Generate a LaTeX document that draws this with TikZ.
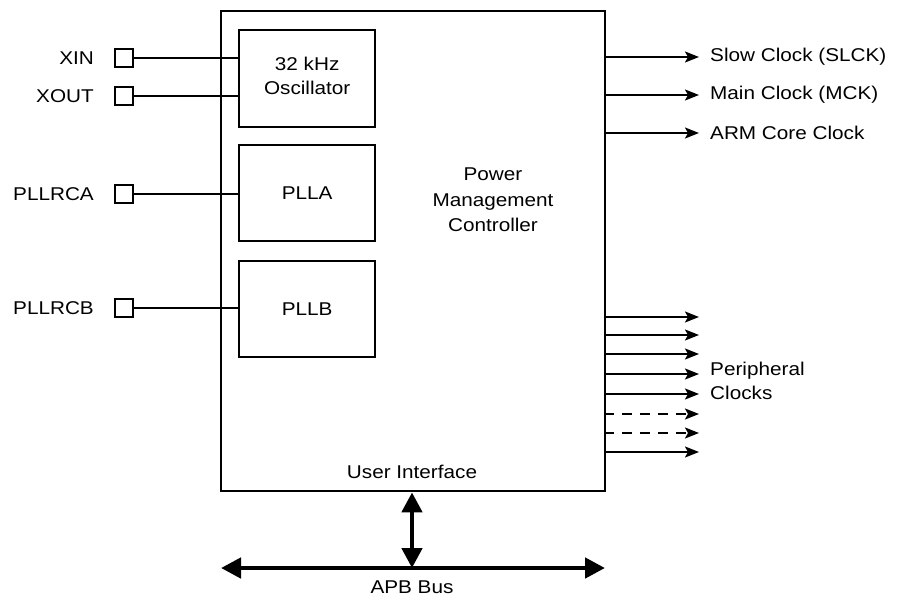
\documentclass[tikz,border=0pt]{standalone}
\usepackage{fontspec}
\setmainfont[FakeStretch=1.12]{Liberation Sans}
\usetikzlibrary{arrows.meta}
\begin{document}
\begin{tikzpicture}[x=1pt,y=-1pt,
  every node/.style={font=\fontsize{18.5}{24}\selectfont, inner sep=0pt},
  block/.style={draw, line width=2.4pt, anchor=north west, align=center},
  pin/.style={draw, line width=2pt, minimum size=18pt},
  lbl/.style={align=center},
  wire/.style={line width=2pt},
  outarrow/.style={line width=2pt, -{Stealth[length=14pt,width=11pt,inset=3pt]}},
  dasharrow/.style={outarrow, dash pattern=on 10pt off 8pt},
  bus/.style={line width=4.6pt, {Triangle[length=20pt,width=20pt]}-{Triangle[length=20pt,width=20pt]}}
]
\useasboundingbox (0,0) rectangle (902,598);

% main box
\node[block, minimum width=384pt, minimum height=480pt] (pmc) at (220,10) {};
\node[lbl, font=\fontsize{18.5}{25.5}\selectfont] (pmctext) at (493,200) {Power\\Management\\Controller};
\node[lbl] (ui) at (412,472) {User Interface};

% inner blocks
\node[block, minimum width=136pt, minimum height=97pt] (osc) at (238,29) {};
\node[lbl] at ([yshift=3pt]osc.center) {32 kHz\\Oscillator};
\node[block, minimum width=136pt, minimum height=96pt] (plla) at (238,144) {};
\node at (plla.center) {PLLA};
\node[block, minimum width=136pt, minimum height=96pt] (pllb) at (238,260) {};
\node at (pllb.center) {PLLB};

% pins
\node[pin] (xin) at (124,58) {};
\node[pin] (xout) at (124,96) {};
\node[pin] (pllrca) at (124,194) {};
\node[pin] (pllrcb) at (124,308) {};
\node[anchor=east] (xinl) at (94,58) {XIN};
\node[anchor=east] (xoutl) at (94,96) {XOUT};
\node[anchor=east] (pllrcal) at (94,194) {PLLRCA};
\node[anchor=east] (pllrcbl) at (94,308) {PLLRCB};

\draw[wire] (xin.east) -- (osc.west |- xin.east);
\draw[wire] (xout.east) -- (osc.west |- xout.east);
\draw[wire] (pllrca.east) -- (plla.west |- pllrca.east);
\draw[wire] (pllrcb.east) -- (pllb.west |- pllrcb.east);

% clock outputs
\foreach \y/\n in {57/slck,95/mck,133/arm}{
  \coordinate (\n s) at (604,\y);
  \coordinate (\n e) at (699,\y);
  \draw[outarrow] (\n s) -- (\n e);
}
\node[anchor=west] (slckl) at (710,57) {Slow Clock (SLCK)};
\node[anchor=west] (mckl) at (710,95) {Main Clock (MCK)};
\node[anchor=west] (arml) at (710,133) {ARM Core Clock};

% peripheral clocks
\foreach \y/\n in {317/p1,335/p2,354/p3,374/p4,394/p5,452/p8}{
  \coordinate (\n s) at (604,\y);
  \coordinate (\n e) at (699,\y);
  \draw[outarrow] (\n s) -- (\n e);
}
\foreach \y/\n in {414/p6,433/p7}{
  \coordinate (\n s) at (604,\y);
  \coordinate (\n e) at (699,\y);
  \draw[dasharrow] (\n s) -- (\n e);
}
\node[anchor=west, align=left] (perl) at (710,381) {Peripheral\\Clocks};

% APB bus
\coordinate (busl) at (221,568);
\coordinate (busr) at (605,568);
\coordinate (busm) at (412,568);
\draw[bus] (busl) -- (busr);
\draw[bus] (pmc.south -| busm) -- (busm);
\node (apb) at (412,587) {APB Bus};
\end{tikzpicture}
\end{document}
